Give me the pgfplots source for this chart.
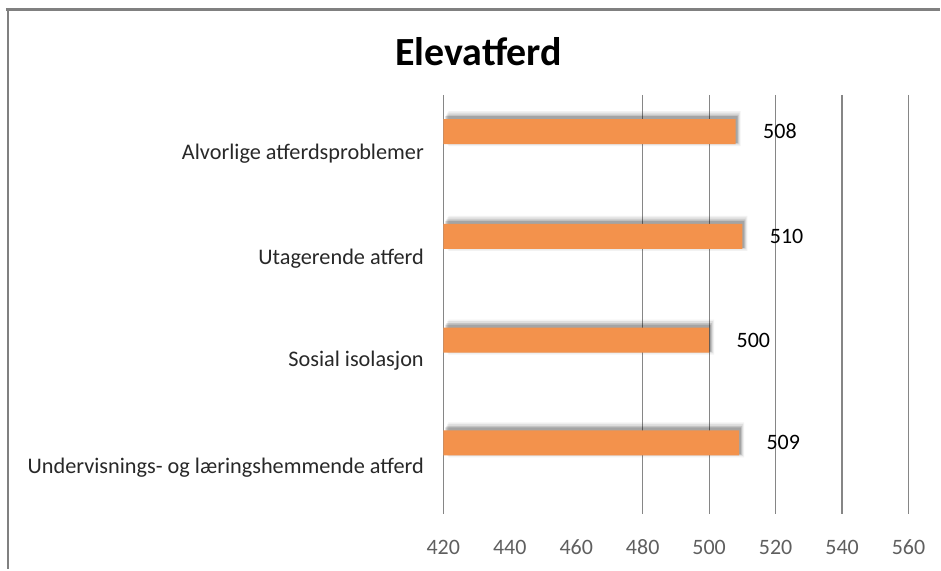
\documentclass[border=0pt]{standalone}
\usepackage{pgfplots}
\pgfplotsset{compat=1.18}
\usepackage{pgfplotstable}
\usepackage{fontspec}
\setmainfont{Carlito}

\definecolor{barorange}{RGB}{243,146,76}
\definecolor{gridgray}{RGB}{134,134,134}
\definecolor{ticktext}{RGB}{95,95,95}
\definecolor{labeltext}{RGB}{40,40,40}
\definecolor{framegray}{RGB}{128,128,128}

% bar centre (y, top to bottom) and score
\pgfplotstableread{
pos  score
-0.15 508
0.85  510
1.84  500
2.82  509
}\scores

\begin{document}
\begin{tikzpicture}
% the value axis starts at 420: bars are drawn as score-420 so they start at the left edge
\begin{axis}[
  at={(0,0)}, anchor=south west,
  scale only axis,
  width=466pt, height=420pt,
  xmin=0, xmax=140,
  ymin=-0.5, ymax=3.5,
  y dir=reverse,
  xtick={0,60,80,100,120,140},
  xticklabels={420,480,500,520,540,560},
  extra x ticks={20,40},
  extra x tick labels={440,460},
  extra x tick style={grid=none},
  xmajorgrids,
  major grid style={draw=gridgray, line width=1.3pt},
  ytick={0.06,1.06,2.04,3.06},
  yticklabels={Alvorlige atferdsproblemer, Utagerende atferd, Sosial isolasjon, Undervisnings- og læringshemmende atferd},
  axis line style={draw=none},
  tick style={draw=none},
  major tick length=0pt,
  xticklabel style={font=\fontsize{22}{26}\selectfont, text=ticktext, anchor=base, yshift=-40pt},
  yticklabel style={font=\fontsize{22.3}{26}\selectfont, text=labeltext, xshift=-16pt},
  clip=false,
  xbar, bar shift=0pt,
]
% soft drop shadow, built from a few translucent layers
\addplot[bar width=35pt, fill=black, fill opacity=0.05, draw=none, xshift=5pt, yshift=3pt]
  table[x expr=\thisrow{score}-420, y=pos] {\scores};
\addplot[bar width=32pt, fill=black, fill opacity=0.08, draw=none, xshift=4pt, yshift=3pt]
  table[x expr=\thisrow{score}-420, y=pos] {\scores};
\addplot[bar width=29pt, fill=black, fill opacity=0.12, draw=none, xshift=3pt, yshift=2.5pt]
  table[x expr=\thisrow{score}-420, y=pos] {\scores};
\addplot[bar width=27pt, fill=black, fill opacity=0.16, draw=none, xshift=2pt, yshift=2pt]
  table[x expr=\thisrow{score}-420, y=pos] {\scores};
% the bars with their values
\addplot[
  bar width=25pt,
  fill=barorange, draw=none,
  point meta=explicit,
  nodes near coords={\pgfmathprintnumber[assume math mode=true]{\pgfplotspointmeta}},
  nodes near coords style={anchor=west, xshift=24pt, font=\fontsize{22}{26}\selectfont, text=black},
] table[x expr=\thisrow{score}-420, y=pos, meta=score] {\scores};
\end{axis}
% chart title
\node[font=\fontsize{40}{46}\bfseries\selectfont] at (35.5pt,463pt) {Elevatferd};
% chart frame (top and left edges)
\draw[framegray, line width=3pt] (-438pt,505pt) -- (497pt,505pt);
\draw[framegray, line width=2.5pt] (-436pt,505pt) -- (-436pt,-55pt);
\path[use as bounding box] (-444pt,-55pt) rectangle (497pt,515pt);
\end{tikzpicture}
\end{document}
